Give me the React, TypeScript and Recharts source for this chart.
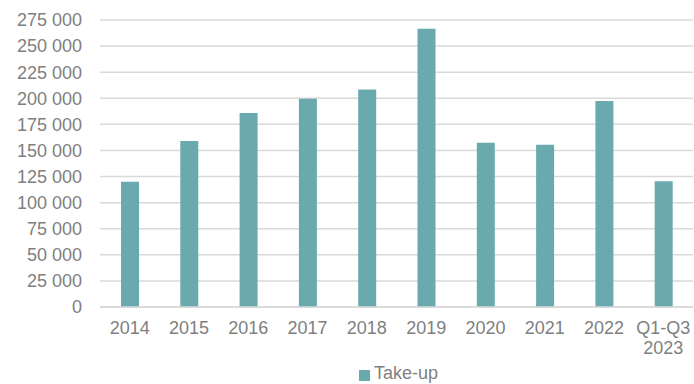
import { Bar, BarChart, CartesianGrid, Legend, XAxis, YAxis } from "recharts";

const YEARS = ["2014", "2015", "2016", "2017", "2018", "2019", "2020", "2021", "2022", "Q1-Q3\n2023"];
const TAKE_UP = [120000, 159000, 186000, 199500, 208500, 266500, 157500, 155500, 197500, 120500];
const Y_TICKS = [0, 25000, 50000, 75000, 100000, 125000, 150000, 175000, 200000, 225000, 250000, 275000];

const DATA = YEARS.map((year, i) => ({ year, takeUp: TAKE_UP[i] }));

const GREY = "#7f7f7f";
const FONT = "'Liberation Sans', Arial, sans-serif";

const fmt = (v: number) => String(v).replace(/\B(?=(\d{3})+(?!\d))/g, " ");

function YearTick(props: any) {
  const { x, y, payload } = props;
  const lines = String(payload.value).split("\n");
  return (
    <text x={x} y={y} textAnchor="middle" fill={GREY} fontSize={18} fontFamily={FONT}>
      {lines.map((line, i) => (
        <tspan key={i} x={x} dy={i === 0 ? 19 : 20}>
          {line}
        </tspan>
      ))}
    </text>
  );
}

export default function App() {
  return (
    <div style={{ position: "absolute", left: 0, top: 0, background: "#fff" }}>
      <BarChart width={694} height={384} data={DATA} margin={{ top: 20, right: 1, left: 0, bottom: 0 }}>
        <CartesianGrid vertical={false} stroke="#d9d9d9" strokeWidth={1.5} />
        <XAxis
          dataKey="year"
          interval={0}
          tickLine={false}
          axisLine={{ stroke: "#d9d9d9", strokeWidth: 1.5 }}
          height={50}
          tick={<YearTick />}
        />
        <YAxis
          width={100}
          domain={[0, 275000]}
          ticks={Y_TICKS}
          interval={0}
          tickFormatter={fmt}
          tickLine={false}
          axisLine={false}
          tickMargin={12}
          tick={{ fill: GREY, fontSize: 18, fontFamily: FONT }}
        />
        <Legend
          height={27}
          iconType="square"
          iconSize={11}
          wrapperStyle={{ left: 57, bottom: -6 }}
          formatter={(v) => <span style={{ color: GREY, fontSize: 18, fontFamily: FONT }}>{v}</span>}
        />
        <Bar dataKey="takeUp" name="Take-up" fill="#6aaaae" barSize={18} isAnimationActive={false} />
      </BarChart>
    </div>
  );
}
